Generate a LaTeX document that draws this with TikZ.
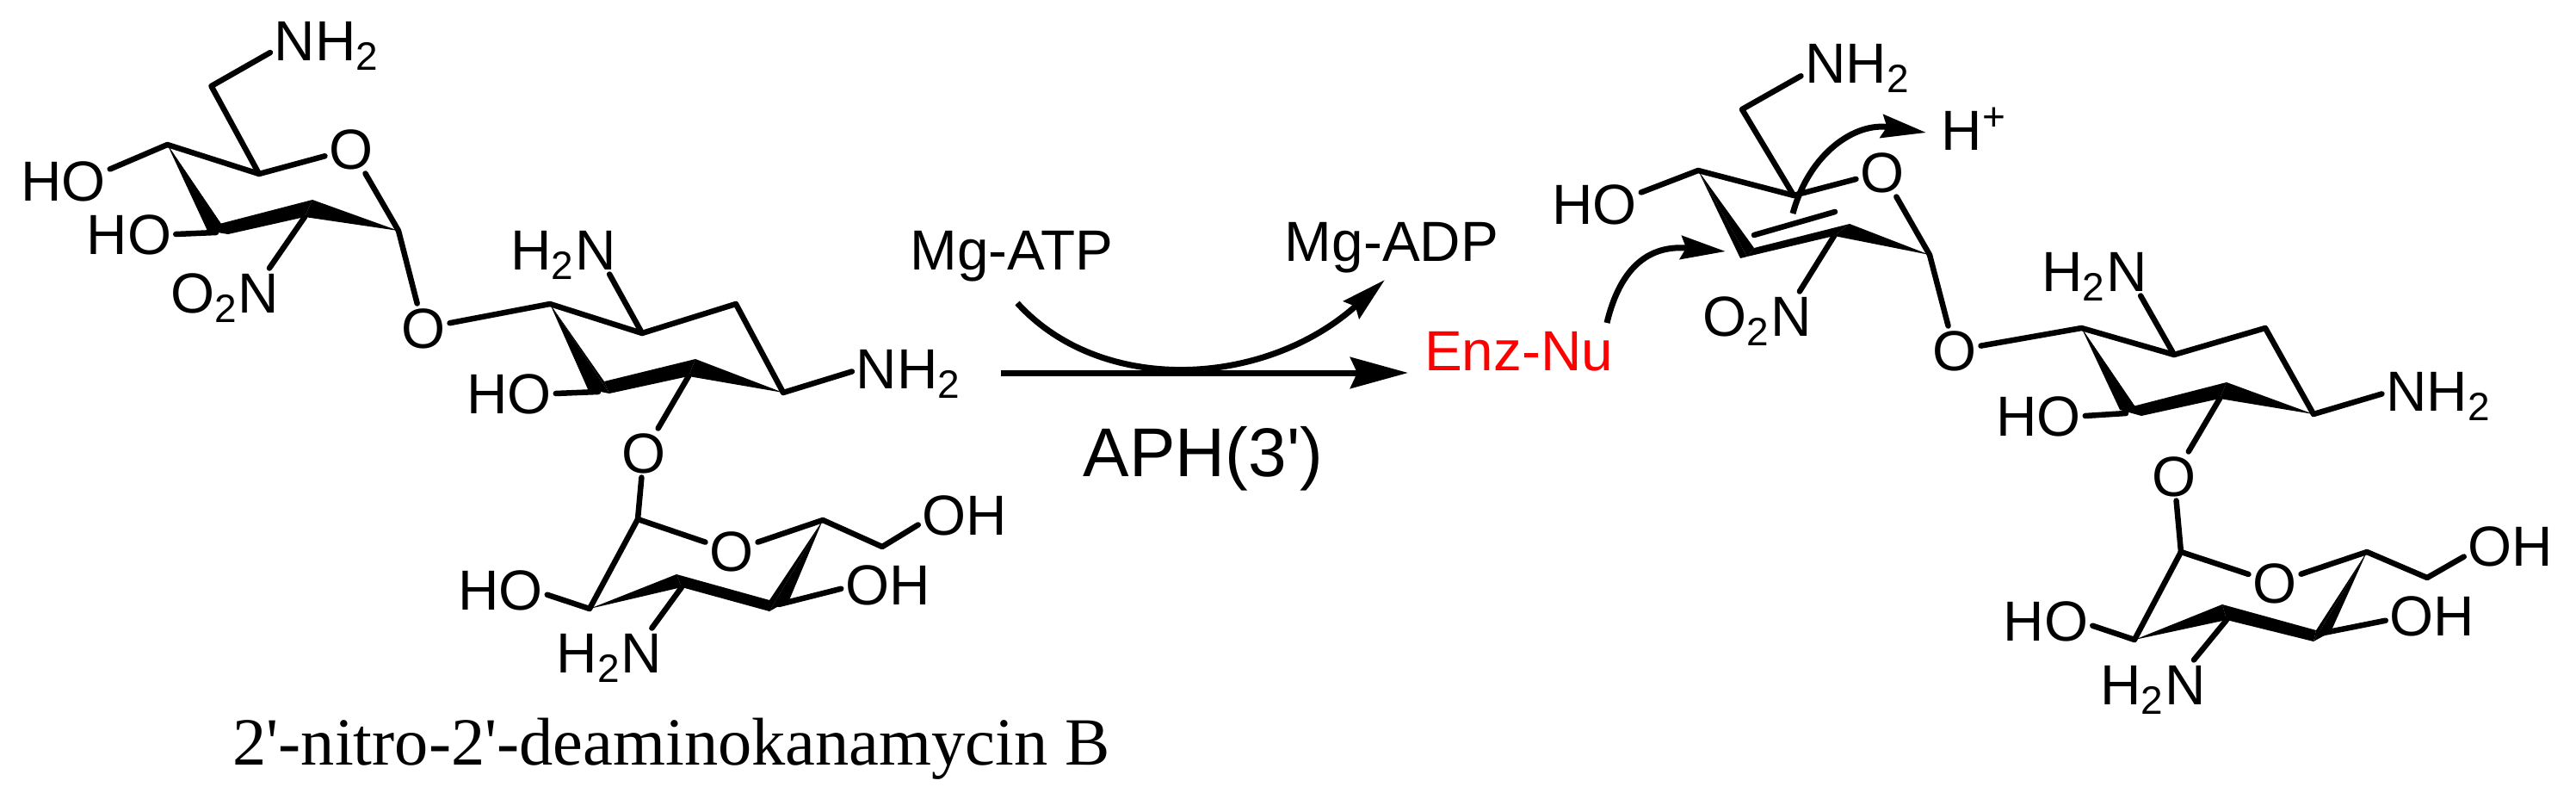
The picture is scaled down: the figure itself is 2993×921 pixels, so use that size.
\documentclass[tikz,border=0pt]{standalone}
\usepackage{fontspec}
\usetikzlibrary{arrows.meta}
\newfontfamily\atomfont{Liberation Sans}
\newfontfamily\namefont{Liberation Serif}
\def\wedgebond(#1)(#2)(#3){\fill (#1) -- (#2) -- (#3) -- cycle;}
\def\thickbond(#1)(#2)(#3)(#4){\fill (#1) -- (#2) -- (#3) -- (#4) -- cycle;}
\tikzset{
	bond/.style={line width=0.065cm, line cap=round, line join=round},
	atom/.style={font=\atomfont\fontsize{18.67pt}{20pt}\selectfont, inner sep=0pt, outer sep=0.05cm, text height=0.47cm, text depth=0pt},
	reagent/.style={font=\atomfont\fontsize{18.67pt}{20pt}\selectfont, inner sep=0pt, anchor=base},
	pusharrow/.style={line width=0.07cm, -{Stealth[length=0.52cm, width=0.27cm, inset=0.06cm]}},
	mainarrow/.style={line width=0.07cm, -{Stealth[length=0.67cm, width=0.36cm, inset=0.08cm]}}
}

\begin{document}
\begin{tikzpicture}[x=0.01cm, y=-0.01cm]
	\useasboundingbox (0, 0) rectangle (2993, 921);

	%%%%% LEFT MOLECULE, TOP RING %%%%%
	\coordinate (a6) at (245.5, 100);
	\coordinate (a5) at (301, 202);
	\coordinate (a4) at (194.5, 168);
	\coordinate (a3) at (251, 270);
	\coordinate (a3l) at (241, 268);
	\coordinate (a3u) at (255, 260);
	\coordinate (a3d) at (265, 272);
	\coordinate (a2u) at (363, 232);
	\coordinate (a2d) at (354, 252);
	\coordinate (a1) at (463, 268);
	\node[atom] (nhA) at (380, 47) {NH\textsubscript{2}};
	\node[atom] (hoA) at (73.5, 210) {HO};
	\node[atom] (hoB) at (150, 272) {HO};
	\node[atom] (noA) at (261.5, 340) {O\textsubscript{2}N};
	\node[atom] (oA) at (408, 173) {O};
	\node[atom] (oB) at (492, 381) {O};
	\draw[bond] (nhA.192) -- (a6) -- (a5) -- (oA);
	\draw[bond] (a5) -- (a4) -- (hoA.14);
	\draw[bond] (a3) -- (hoB.east);
	\draw[bond] (a2d) -- (noA.29);
	\draw[bond] (oA) -- (a1) -- (oB);
	\wedgebond(a4)(a3l)(a3d)
	\wedgebond(a4)(a3d)(a3u)
	\thickbond(a3u)(a2u)(a2d)(a3d)
	\wedgebond(a2u)(a1)(a2d)

	%%%%% LEFT MOLECULE, MIDDLE RING %%%%%
	\coordinate (b1) at (639, 353);
	\coordinate (b2) at (746, 387);
	\coordinate (b6) at (855, 353);
	\coordinate (b5) at (910, 456);
	\coordinate (b3) at (695, 455);
	\coordinate (b3l) at (683, 452);
	\coordinate (b3u) at (702, 443);
	\coordinate (b3d) at (708, 457);
	\coordinate (b4u) at (808, 417);
	\coordinate (b4d) at (800, 437);
	\node[atom] (nhB) at (654.5, 290) {H\textsubscript{2}N};
	\node[atom] (nhC) at (1056, 428) {NH\textsubscript{2}};
	\node[atom] (hoC) at (591.5, 457) {HO};
	\node[atom] (oC) at (748, 526) {O};
	\draw[bond] (oB) -- (b1) -- (b2) -- (b6) -- (b5) -- (nhC.183);
	\draw[bond] (b2) -- (nhB.332);
	\draw[bond] (b3) -- (hoC.east);
	\draw[bond] (b4d) -- (oC);
	\wedgebond(b1)(b3l)(b3d)
	\wedgebond(b1)(b3d)(b3u)
	\thickbond(b3u)(b4u)(b4d)(b3d)
	\wedgebond(b4u)(b5)(b4d)

	%%%%% LEFT MOLECULE, LOWER RING %%%%%
	\coordinate (c1) at (741, 603);
	\coordinate (c2) at (685, 707);
	\coordinate (c3u) at (786, 667);
	\coordinate (c3d) at (792, 682);
	\coordinate (c4u) at (894, 697);
	\coordinate (c4d) at (894, 710);
	\coordinate (c4r) at (917, 697);
	\coordinate (c4) at (905, 702);
	\coordinate (c5) at (956, 604);
	\coordinate (c6) at (1025, 635);
	\node[atom] (oD) at (850, 640) {O};
	\node[atom] (ohA) at (1121, 598) {OH};
	\node[atom] (ohB) at (1031.5, 679) {OH};
	\node[atom] (hoD) at (581.5, 685) {HO};
	\node[atom] (nhD) at (708, 758) {H\textsubscript{2}N};
	\draw[bond] (oC) -- (c1) -- (oD);
	\draw[bond] (oD) -- (c5) -- (c6) -- (ohA.192);
	\draw[bond] (c1) -- (c2) -- (hoD.354);
	\draw[bond] (c3d) -- (nhD.30);
	\draw[bond] (c4) -- (ohB.185);
	\wedgebond(c2)(c3u)(c3d)
	\thickbond(c3u)(c4u)(c4d)(c3d)
	\wedgebond(c5)(c4u)(c4d)
	\wedgebond(c5)(c4d)(c4r)

	%%%%% REACTION ARROWS %%%%%
	\coordinate (arrowA) at (1163, 433);
	\coordinate (arrowB) at (1636, 433);
	\coordinate (curveA) at (1182, 352);
	\coordinate (curveB) at (1609, 325);
	\coordinate (attackA) at (1867, 375);
	\coordinate (attackB) at (2005, 292);
	\coordinate (protonA) at (2083, 248);
	\coordinate (protonB) at (2238, 154);
	\node[reagent] (atp) at (1175.5, 313) {Mg-ATP};
	\node[reagent] (adp) at (1617, 303) {Mg-ADP};
	\node[reagent, text=red] (enz) at (1764.5, 430) {Enz-Nu};
	\node[reagent, font=\atomfont\fontsize{22.8pt}{24pt}\selectfont] (aph) at (1398, 553) {APH(3')};
	\node[reagent, anchor=base west] (proton) at (2255, 174) {H\textsuperscript{+}};
	\node[font=\namefont\fontsize{22.3pt}{24pt}\selectfont, inner sep=0pt, anchor=base] (title) at (780, 888) {2'-nitro-2'-deaminokanamycin B};
	\draw[mainarrow] (arrowA) -- (arrowB);
	\draw[pusharrow] (curveA) .. controls (1280, 460) and (1470, 450) .. (curveB);
	\draw[pusharrow] (attackA) .. controls (1885, 300) and (1925, 285) .. (attackB);
	\draw[pusharrow] (protonA) .. controls (2102, 178) and (2155, 142) .. (protonB);

	%%%%% RIGHT MOLECULE, TOP RING %%%%%
	\coordinate (d6) at (2024, 127);
	\coordinate (d5) at (2084, 227);
	\coordinate (d4) at (1973, 198);
	\coordinate (d3l) at (2022, 300);
	\coordinate (d3d) at (2030, 298);
	\coordinate (d3u) at (2038, 288);
	\coordinate (d2u) at (2149, 260);
	\coordinate (d2d) at (2131, 274);
	\coordinate (d1) at (2242, 296);
	\coordinate (dblA) at (2038, 273);
	\coordinate (dblB) at (2132, 246);
	\node[atom] (nhE) at (2158.5, 73) {NH\textsubscript{2}};
	\node[atom] (hoE) at (1852.5, 237) {HO};
	\node[atom] (oE) at (2187, 200) {O};
	\node[atom] (noB) at (2041.5, 367) {O\textsubscript{2}N};
	\node[atom] (oF) at (2271, 407) {O};
	\draw[bond] (nhE.193) -- (d6) -- (d5) -- (oE);
	\draw[bond] (d5) -- (d4) -- (hoE.14);
	\draw[bond] (dblA) -- (dblB);
	\draw[bond] (d2d) -- (noB.30);
	\draw[bond] (oE) -- (d1) -- (oF);
	\wedgebond(d4)(d3l)(d3d)
	\wedgebond(d4)(d3d)(d3u)
	\thickbond(d3u)(d2u)(d2d)(d3d)
	\wedgebond(d2u)(d1)(d2d)

	%%%%% RIGHT MOLECULE, MIDDLE RING %%%%%
	\coordinate (e1) at (2418.5, 381);
	\coordinate (e2) at (2526, 412);
	\coordinate (e6) at (2632, 381);
	\coordinate (e5) at (2688, 481);
	\coordinate (e3) at (2470, 480);
	\coordinate (e3l) at (2463, 476);
	\coordinate (e3u) at (2478, 472);
	\coordinate (e3d) at (2488, 483);
	\coordinate (e4u) at (2587, 444);
	\coordinate (e4d) at (2579, 463);
	\node[atom] (nhF) at (2433.5, 315) {H\textsubscript{2}N};
	\node[atom] (nhG) at (2833.5, 454) {NH\textsubscript{2}};
	\node[atom] (hoF) at (2368.5, 483) {HO};
	\node[atom] (oG) at (2526, 553) {O};
	\draw[bond] (oF) -- (e1) -- (e2) -- (e6) -- (e5) -- (nhG.183);
	\draw[bond] (e2) -- (nhF.332);
	\draw[bond] (e3) -- (hoF.east);
	\draw[bond] (e4d) -- (oG);
	\wedgebond(e1)(e3l)(e3d)
	\wedgebond(e1)(e3d)(e3u)
	\thickbond(e3u)(e4u)(e4d)(e3d)
	\wedgebond(e4u)(e5)(e4d)

	%%%%% RIGHT MOLECULE, LOWER RING %%%%%
	\coordinate (f1) at (2534, 641);
	\coordinate (f2) at (2480, 743);
	\coordinate (f3u) at (2582, 702);
	\coordinate (f3d) at (2587, 720);
	\coordinate (f4u) at (2691, 732);
	\coordinate (f4d) at (2688, 745);
	\coordinate (f4r) at (2708, 734);
	\coordinate (f4) at (2695, 736);
	\coordinate (f5) at (2750, 641);
	\coordinate (f6) at (2820, 671);
	\node[atom] (oH) at (2643, 677) {O};
	\node[atom] (ohC) at (2917, 634) {OH};
	\node[atom] (ohD) at (2826, 715) {OH};
	\node[atom] (hoG) at (2377, 721) {HO};
	\node[atom] (nhH) at (2501.5, 795) {H\textsubscript{2}N};
	\draw[bond] (oG) -- (f1) -- (oH);
	\draw[bond] (oH) -- (f5) -- (f6) -- (ohC.193);
	\draw[bond] (f1) -- (f2) -- (hoG.354);
	\draw[bond] (f3d) -- (nhH.31);
	\draw[bond] (f4) -- (ohD.186);
	\wedgebond(f2)(f3u)(f3d)
	\thickbond(f3u)(f4u)(f4d)(f3d)
	\wedgebond(f5)(f4u)(f4d)
	\wedgebond(f5)(f4d)(f4r)
\end{tikzpicture}
\end{document}
